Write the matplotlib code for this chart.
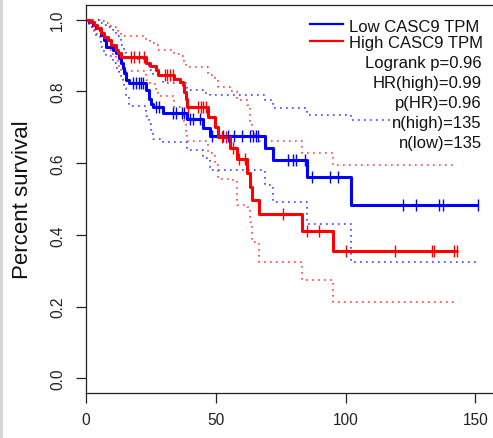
import numpy as np
import matplotlib
matplotlib.use("Agg")
import matplotlib.pyplot as plt
from matplotlib.lines import Line2D
from matplotlib.patches import Rectangle

plt.rcParams['font.family'] = ['Liberation Sans', 'DejaVu Sans']

# --- Low CASC9 TPM group (blue): step times, survival, CI bounds ---
low_times = [0, 1.3, 2.6, 3.9, 5.3, 5.8, 7.1, 7.7, 10.3, 11.6, 12.8, 13.5, 14.1,
             14.8, 15.4, 16.7, 23.1, 24.4, 25.0, 26.0, 29.7, 38.8, 45.0, 47.8,
             69.0, 71.9, 85.0, 102.0]
low_surv = [1.0, 0.993, 0.985, 0.978, 0.970, 0.957, 0.943, 0.925, 0.915, 0.906,
            0.892, 0.878, 0.864, 0.850, 0.831, 0.822, 0.803, 0.780, 0.766, 0.757,
            0.741, 0.722, 0.698, 0.675, 0.642, 0.610, 0.561, 0.482]
low_upper = [1.0, 1.0, 1.0, 1.0, 1.0, 0.99, 0.985, 0.98, 0.97, 0.955, 0.945, 0.93,
             0.92, 0.91, 0.895, 0.89, 0.875, 0.86, 0.85, 0.845, 0.822, 0.805,
             0.795, 0.791, 0.775, 0.754, 0.733, 0.72]
low_lower = [1.0, 0.98, 0.97, 0.955, 0.94, 0.925, 0.905, 0.90, 0.88, 0.865, 0.855,
             0.84, 0.83, 0.81, 0.785, 0.76, 0.73, 0.71, 0.69, 0.668, 0.659, 0.636,
             0.613, 0.58, 0.538, 0.492, 0.431, 0.324]
low_censor = [18.0, 19.3, 20.3, 21.2, 22.1, 27.0, 28.0, 33.5, 34.7, 36.9, 37.8,
              40.1, 41.2, 43.9, 48.4, 52.9, 54.8, 57.0, 60.0, 63.2, 64.5, 65.5,
              66.4, 78.0, 79.9, 80.9, 84.4, 87.0, 94.0, 97.0, 122.3, 127.2,
              136.1, 137.7, 151.2]
low_end = 151.2

# --- High CASC9 TPM group (red) ---
high_times = [0, 1.5, 3.2, 4.2, 5.8, 7.1, 8.5, 9.6, 11.6, 12.3, 13.5, 23.1, 24.7,
              27.0, 27.9, 34.0, 36.2, 37.3, 37.9, 38.5, 38.8, 47.1, 49.7, 51.0,
              55.5, 58.1, 61.9, 63.2, 63.8, 66.8, 83.1, 95.1]
high_surv = [1.0, 0.993, 0.985, 0.978, 0.963, 0.952, 0.944, 0.929, 0.915, 0.907,
             0.897, 0.878, 0.870, 0.859, 0.845, 0.835, 0.826, 0.817, 0.799, 0.780,
             0.757, 0.729, 0.701, 0.673, 0.642, 0.611, 0.573, 0.534, 0.496, 0.459,
             0.412, 0.354]
high_upper = [1.0, 1.0, 1.0, 1.0, 0.995, 0.99, 0.985, 0.98, 0.975, 0.965, 0.955,
              0.942, 0.935, 0.929, 0.915, 0.905, 0.90, 0.89, 0.88, 0.872, 0.869,
              0.845, 0.831, 0.813, 0.80, 0.775, 0.761, 0.715, 0.682, 0.661, 0.628,
              0.594]
high_lower = [1.0, 0.98, 0.965, 0.955, 0.945, 0.935, 0.915, 0.905, 0.887, 0.87,
              0.857, 0.832, 0.82, 0.80, 0.786, 0.757, 0.738, 0.725, 0.71, 0.69,
              0.661, 0.627, 0.594, 0.557, 0.552, 0.482, 0.478, 0.436, 0.38, 0.324,
              0.273, 0.212]
high_censor = [17.3, 18.6, 20.5, 22.4, 30.4, 31.2, 32.4, 33.5, 39.4, 43.3, 44.3,
               45.2, 46.1, 52.4, 53.9, 56.6, 59.0, 61.3, 76.0, 85.0, 89.9, 100.1,
               119.1, 133.2, 134.1, 141.9, 142.8]
high_end = 143.5
high_ci_end = 141.9

legend_labels = ["Low CASC9 TPM", "High CASC9 TPM"]
stats_lines = ["Logrank p=0.96", "HR(high)=0.99", "p(HR)=0.96",
               "n(high)=135", "n(low)=135"]

W, H = 493, 439
fig = plt.figure(figsize=(W / 100, H / 100), dpi=100)
ax = fig.add_axes([86 / W, 45 / H, (W - 86) / W, 388 / H])


def step_level(times, levels, t):
    idx = np.searchsorted(times, t, side="right") - 1
    return np.asarray(levels)[idx]


def draw_group(times, surv, upper, lower, censor, end, ci_end, color):
    t = list(times) + [end]
    ax.step(t, list(surv) + [surv[-1]], where="post", color=color, lw=2.2,
            solid_capstyle="butt", zorder=3)
    tc = list(times) + [ci_end]
    for band in (upper, lower):
        ax.step(tc, list(band) + [band[-1]], where="post", color=color, lw=1.2,
                linestyle=(0, (1, 2.6)), alpha=0.75, zorder=2)
    cy = step_level(np.array(times), surv, np.array(censor))
    ax.plot(censor, cy, linestyle="none", marker="|", markersize=8.5,
            markeredgewidth=1.0, color=color, zorder=4)


draw_group(low_times, low_surv, low_upper, low_lower, low_censor, low_end,
           low_end, "#0000ff")
draw_group(high_times, high_surv, high_upper, high_lower, high_censor, high_end,
           high_ci_end, "#ff0000")

ax.set_xlim(0, (W - 86) / 2.595)
ax.set_ylim(-0.0408, 1.0408)
ax.set_xticks([0, 50, 100, 150])
ax.set_yticks([0.0, 0.2, 0.4, 0.6, 0.8, 1.0])
ax.set_yticklabels(["0.0", "0.2", "0.4", "0.6", "0.8", "1.0"], rotation=90,
                   va="center")
ax.tick_params(axis="both", length=7, width=0.9, labelsize=11.2, colors="#222222")
ax.tick_params(axis="y", pad=8)
ax.tick_params(axis="x", pad=7)
ax.spines["right"].set_visible(False)
for s in ("left", "top", "bottom"):
    ax.spines[s].set_linewidth(0.9)
    ax.spines[s].set_color("#222222")
ax.set_ylabel("Percent survival", fontsize=16, labelpad=12, color="#111111")

# legend (lines + labels) drawn in pixel positions of the figure
def fx(px):
    return px / W


def fy(py):
    return 1 - py / H


for i, (lab, col) in enumerate(zip(legend_labels, ["#0000ff", "#ff0000"])):
    yc = 25 + i * 16.5
    fig.add_artist(Line2D([fx(310), fx(342.7)], [fy(yc), fy(yc)], color=col, lw=1.6))
    fig.text(fx(349.3), fy(yc + 6.7), lab, fontsize=12, ha="left", va="baseline",
             color="#111111")

# stats text has a white background, hiding the dotted line under it
for i, line in enumerate(stats_lines):
    fig.text(fx(481.7), fy(68.3 + i * 19.9), line, fontsize=12, ha="right",
             va="baseline", color="#111111", zorder=5,
             bbox=dict(facecolor="white", edgecolor="none", pad=1.0))

# light gray strip at the left edge of the screenshot
fig.add_artist(Rectangle((0, 0), 3 / W, 1, transform=fig.transFigure,
                         color="#d6d6d6", lw=0))

fig.savefig("out.png", dpi=100)
